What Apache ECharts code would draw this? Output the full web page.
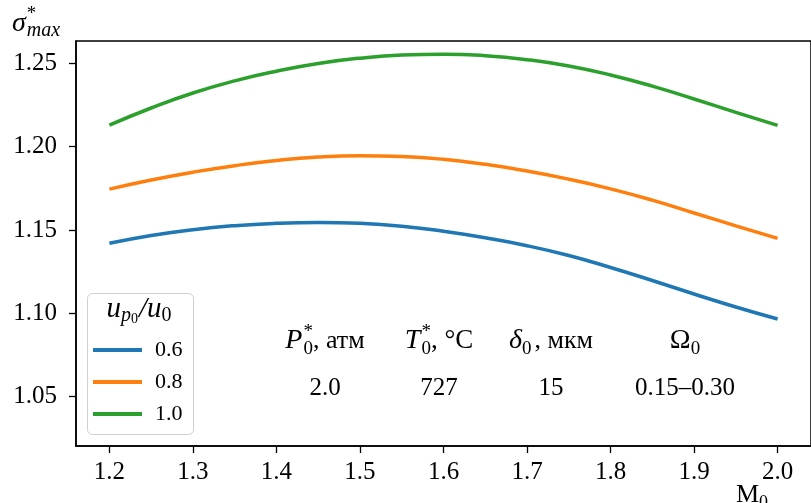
<!DOCTYPE html>
<html>
<head>
<meta charset="utf-8">
<script src="https://cdn.jsdelivr.net/npm/echarts@6/dist/echarts.min.js"></script>
<style>
html,body{margin:0;padding:0;background:#fff;}
#chart{width:811px;height:503px;}
</style>
</head>
<body>
<div id="chart"></div>
<script>
// ---- data ----
const mach = [1.2, 1.25, 1.3, 1.35, 1.4, 1.45, 1.5, 1.55, 1.6, 1.65, 1.7, 1.75, 1.8, 1.85, 1.9, 1.95, 2.0];
const sigma06 = [1.1420, 1.1467, 1.1502, 1.1526, 1.1540, 1.1545, 1.1540, 1.1523, 1.1492, 1.1453, 1.1406, 1.1347, 1.1275, 1.1197, 1.1116, 1.1038, 1.0966];
const sigma08 = [1.1745, 1.1800, 1.1847, 1.1886, 1.1917, 1.1938, 1.1946, 1.1941, 1.1924, 1.1894, 1.1854, 1.1805, 1.1747, 1.1679, 1.1602, 1.1525, 1.1450];
const sigma10 = [1.2129, 1.2232, 1.2322, 1.2395, 1.2453, 1.2499, 1.2531, 1.2550, 1.2555, 1.2546, 1.2522, 1.2484, 1.2430, 1.2363, 1.2286, 1.2206, 1.2128];
const seriesNames = ['0.6', '0.8', '1.0'];
const xTicks = [1.2, 1.3, 1.4, 1.5, 1.6, 1.7, 1.8, 1.9, 2.0];
const yTicks = [1.05, 1.10, 1.15, 1.20, 1.25];
const paramValues = ['2.0', '727', '15', '0.15\u20130.30'];

// ---- helpers ----
const FONT = '"Liberation Serif", "Times New Roman", serif';
const ctx = document.createElement('canvas').getContext('2d');
function tw(t, size, italic) {
  ctx.font = (italic ? 'italic ' : '') + size + 'px ' + FONT;
  return ctx.measureText(t).width;
}
function mathText(x, cy, tokens, align) {
  let pos = [], cx = 0, i = 0;
  while (i < tokens.length) {
    const tk = tokens[i];
    if (tk.stack && tokens[i + 1]) {
      const a = tw(tk.t, tk.size, tk.it), b = tw(tokens[i + 1].t, tokens[i + 1].size, tokens[i + 1].it);
      pos.push([tk, cx]); pos.push([tokens[i + 1], cx]);
      cx += Math.max(a, b) + (tk.gap || 0); i += 2;
    } else {
      pos.push([tk, cx + (tk.pre || 0)]);
      cx += tw(tk.t, tk.size, tk.it) + (tk.pre || 0) + (tk.gap || 0); i += 1;
    }
  }
  const x0 = align === 'center' ? x - cx / 2 : (align === 'right' ? x - cx : x);
  return pos.map(([tk, dx]) => ({
    type: 'text', z: 20, silent: true,
    style: {
      text: tk.t, x: x0 + dx, y: cy + (tk.dy || 0),
      fill: '#000', verticalAlign: 'middle', align: 'left',
      font: (tk.it ? 'italic ' : '') + tk.size + 'px ' + FONT
    }
  }));
}

const BIG = 28, SM = 19;
const headerDefs = [
  [{t: 'P', size: BIG, it: true, gap: 1}, {t: '*', size: SM, dy: -9, stack: true}, {t: '0', size: SM, dy: 8, gap: 1}, {t: ', \u0430\u0442\u043c', size: 26}],
  [{t: 'T', size: BIG, it: true, gap: 1}, {t: '*', size: SM, dy: -9, stack: true}, {t: '0', size: SM, dy: 8, gap: 1}, {t: ', \u00b0C', size: 27}],
  [{t: '\u03b4', size: BIG, it: true}, {t: '0', size: SM, dy: 8, gap: 1}, {t: ', \u043c\u043a\u043c', size: 26, pre: 2}],
  [{t: '\u03a9', size: BIG}, {t: '0', size: SM, dy: 8}]
];
const colX = [325, 439, 551, 685];
const headerY = 341, valueY = 388;

let graphics = [];
graphics.push({type: 'rect', z: 5, silent: true, shape: {x: 87.5, y: 293.5, width: 106, height: 141, r: 5},
  style: {fill: 'rgba(255,255,255,0.85)', stroke: '#d0d0d0', lineWidth: 1}});
graphics = graphics.concat(mathText(139, 309, [
  {t: 'u', size: 29, it: true}, {t: 'p', size: 20, it: true, dy: 7}, {t: '0', size: 14, dy: 10}, {t: '/', size: 29, it: true, pre: 1}, {t: 'u', size: 29, it: true}, {t: '0', size: 20, dy: 7}
], 'center'));
graphics = graphics.concat(mathText(12, 24, [
  {t: '\u03c3', size: 28, it: true, gap: 1}, {t: '*', size: 19, dy: -10, stack: true}, {t: 'max', size: 20, it: true, dy: 7}
], 'left'));
graphics = graphics.concat(mathText(736, 495, [
  {t: 'M', size: 26}, {t: '0', size: 18, dy: 8}
], 'left'));
headerDefs.forEach((h, i) => { graphics = graphics.concat(mathText(colX[i], headerY, h, 'center')); });
paramValues.forEach((v, i) => { graphics = graphics.concat(mathText(colX[i], valueY, [{t: v, size: 25}], 'center')); });

const colors = ['#1f77b4', '#ff7f0e', '#2ca02c'];
const allSeries = [sigma06, sigma08, sigma10];

const chart = echarts.init(document.getElementById('chart'), null, {renderer: 'canvas'});
chart.setOption({
  animation: false,
  backgroundColor: '#fff',
  grid: {left: 76, top: 41, right: -11, bottom: 57, show: true, borderColor: '#000', borderWidth: 1.5, backgroundColor: 'transparent'},
  xAxis: {
    type: 'value', min: 1.16, max: 2.04,
    axisLine: {show: true, lineStyle: {color: '#000', width: 1.5}},
    axisTick: {show: true, length: 7, lineStyle: {color: '#000', width: 1.3}, customValues: xTicks},
    axisLabel: {customValues: xTicks, margin: 14, color: '#000', fontFamily: FONT, fontSize: 25,
      formatter: v => v.toFixed(1)},
    splitLine: {show: false}
  },
  yAxis: {
    type: 'value', min: 1.0204, max: 1.2634,
    axisLine: {show: true, lineStyle: {color: '#000', width: 1.5}},
    axisTick: {show: true, length: 7, lineStyle: {color: '#000', width: 1.3}, customValues: yTicks},
    axisLabel: {customValues: yTicks, margin: 19, color: '#000', fontFamily: FONT, fontSize: 25,
      formatter: v => v.toFixed(2)},
    splitLine: {show: false}
  },
  legend: {
    orient: 'vertical', left: 93, top: 339, padding: 0, itemGap: 10,
    itemWidth: 49, itemHeight: 4, icon: 'rect',
    data: seriesNames,
    textStyle: {fontFamily: FONT, fontSize: 22, color: '#000', lineHeight: 22, padding: [0, 0, 0, 8]},
    z: 10
  },
  series: allSeries.map((s, i) => ({
    name: seriesNames[i], type: 'line', smooth: 0.5, showSymbol: false,
    color: colors[i],
    lineStyle: {width: 3.5, color: colors[i]},
    data: mach.map((x, j) => [x, s[j]])
  })),
  graphic: graphics
});
</script>
</body>
</html>
